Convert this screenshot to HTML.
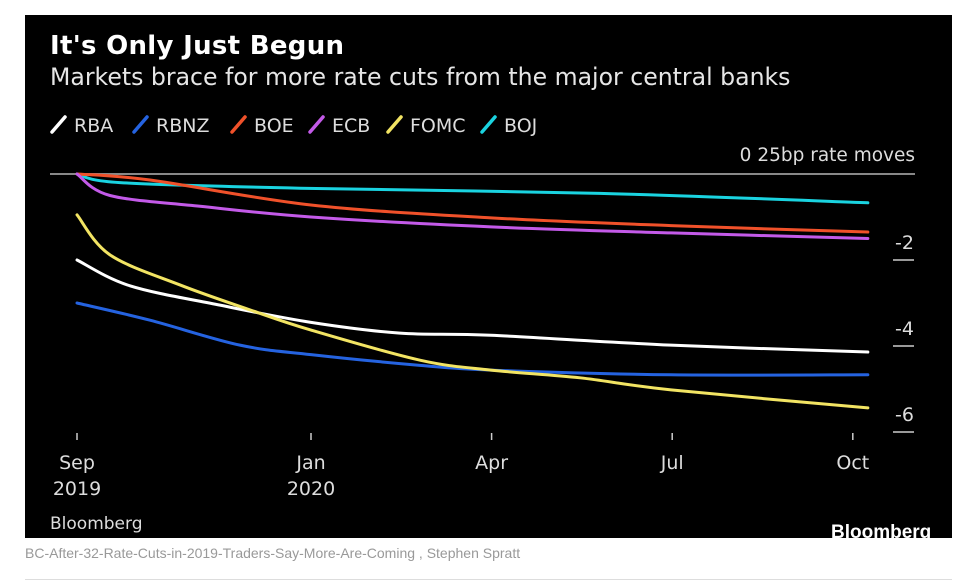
<!DOCTYPE html>
<html><head><meta charset="utf-8"><style>
body{margin:0;width:970px;height:582px;background:#fff;font-family:"Liberation Sans","DejaVu Sans",sans-serif;overflow:hidden;position:relative}
#panel{position:absolute;left:25px;top:15px;width:927px;height:523px;background:#000;overflow:hidden}
.t{position:absolute;color:#fff;white-space:nowrap;font-family:"DejaVu Sans","Liberation Sans",sans-serif}
#cap{position:absolute;left:25px;top:545px;font-size:14px;color:#999}
#rule{position:absolute;left:25px;top:579px;width:927px;height:1px;background:#ddd}
</style></head><body>
<div id="panel">
<div class="t" style="left:25px;top:16px;font-size:26px;font-weight:bold;letter-spacing:0.3px">It's Only Just Begun</div>
<div class="t" style="left:25px;top:48px;font-size:23.6px;color:#e6e6e6">Markets brace for more rate cuts from the major central banks</div>
<svg id="svg" width="927" height="523" style="position:absolute;left:0;top:0"></svg>
<div class="t" style="left:25px;top:499px;font-size:17px;color:#ddd">Bloomberg</div>
<div class="t" style="left:806px;top:507px;font-size:19px;font-weight:bold;font-family:'Liberation Sans',sans-serif">Bloomberg</div>
</div>
<div id="cap">BC-After-32-Rate-Cuts-in-2019-Traders-Say-More-Are-Coming , Stephen Spratt</div>
<div id="rule"></div>
<script>
const seriesNames=["RBA","RBNZ","BOE","ECB","FOMC","BOJ"];
const seriesColors=["#ffffff","#2563e0","#f0512a","#c35ae8","#f2e463","#1ad3e0"];
const monthsRBA=[0.113,0.993,2.488,4,5.478,6.99,9.98,13.25];
const valuesRBA=[-2.0,-2.6,-3.05,-3.45,-3.7,-3.75,-3.98,-4.14];
const monthsRBNZ=[0.113,1.326,2.82,4,5.81,6.99,9.98,13.25];
const valuesRBNZ=[-3.0,-3.4,-3.98,-4.2,-4.45,-4.56,-4.67,-4.67];
const monthsBOE=[0.113,1.326,4,6.99,9.98,13.25];
const valuesBOE=[0,-0.14,-0.72,-1.02,-1.2,-1.35];
const monthsECB=[0.113,0.661,2.156,4,6.99,9.98,13.25];
const valuesECB=[0,-0.5,-0.75,-1.0,-1.23,-1.37,-1.5];
const monthsFOMC=[0.113,0.661,1.824,2.987,4,5.81,6.99,8.47,9.98,13.25];
const valuesFOMC=[-0.95,-1.88,-2.58,-3.16,-3.63,-4.33,-4.56,-4.74,-5.02,-5.44];
const monthsBOJ=[0.113,0.827,3.817,8.8,13.25];
const valuesBOJ=[0,-0.2,-0.33,-0.45,-0.67];
const xTickMonths=[0.113,4,7,10,13];
const xTickLabels=[["Sep","2019"],["Jan","2020"],["Apr",""],["Jul",""],["Oct",""]];
const yTickValues=[-2,-4,-6];
const yTickLabels=["-2","-4","-6"];
const allMonths=[monthsRBA,monthsRBNZ,monthsBOE,monthsECB,monthsFOMC,monthsBOJ];
const allValues=[valuesRBA,valuesRBNZ,valuesBOE,valuesECB,valuesFOMC,valuesBOJ];

const NS="http://www.w3.org/2000/svg";
const svg=document.getElementById('svg');
const xS=m=>286+60.2*(m-4);
const yS=v=>159+43*(-v);
function mk(tag,attrs,parent){const e=document.createElementNS(NS,tag);for(const k in attrs)e.setAttribute(k,attrs[k]);(parent||svg).appendChild(e);return e;}
let lx=25;
const lw=[72,88,68,68,84,60];
seriesNames.forEach((n,i)=>{
  const g=mk('g',{});
  
  
  mk('line',{x1:lx+2,y1:117,x2:lx+15,y2:102,stroke:seriesColors[i],'stroke-width':3.5,'stroke-linecap':'round'},g);
  const t=mk('text',{x:lx+24,y:117,fill:'#ddd','font-size':19,'font-family':'DejaVu Sans, sans-serif'},g);t.textContent=n;
  lx+=lw[i]+10;
});
const z=mk('line',{x1:25,y1:yS(0),x2:890,y2:yS(0),stroke:'#888','stroke-width':2});


const zl=mk('text',{x:890,y:yS(0)-13,fill:'#ddd','font-size':18.5,'text-anchor':'end','font-family':'DejaVu Sans, sans-serif'});
zl.textContent="0 25bp rate moves";


yTickValues.forEach((v,i)=>{
  const l=mk('line',{x1:868,y1:yS(v),x2:889,y2:yS(v),stroke:'#ccc','stroke-width':1.5});
  
  
  const t=mk('text',{x:889,y:yS(v)-11,fill:'#ddd','font-size':19,'text-anchor':'end','font-family':'DejaVu Sans, sans-serif'});
  t.textContent=yTickLabels[i];
  
  
});
xTickMonths.forEach((m,i)=>{
  const l=mk('line',{x1:xS(m),y1:418,x2:xS(m),y2:425,stroke:'#ccc','stroke-width':1.5});
  
  
  xTickLabels[i].forEach((s,j)=>{ if(!s)return;
    const t=mk('text',{x:xS(m),y:454+j*26,fill:'#ddd','font-size':19,'text-anchor':'middle','font-family':'DejaVu Sans, sans-serif'});
    t.textContent=s;
    
    
  });
});
function smooth(pts){let d='M'+pts[0][0]+','+pts[0][1];
  for(let i=0;i<pts.length-1;i++){const p0=pts[i-1]||pts[i],p1=pts[i],p2=pts[i+1],p3=pts[i+2]||p2;
    const c1=[p1[0]+(p2[0]-p0[0])/6,p1[1]+(p2[1]-p0[1])/6],c2=[p2[0]-(p3[0]-p1[0])/6,p2[1]-(p3[1]-p1[1])/6];
    d+=' C'+c1+' '+c2+' '+p2;}return d;}
const order=[5,2,3,0,1,4];
order.forEach(i=>{
  const pts=allMonths[i].map((m,k)=>[xS(m),yS(allValues[i][k])]);
  const p=mk('path',{d:smooth(pts),fill:'none',stroke:seriesColors[i],'stroke-width':3,'stroke-linecap':'round'});
  
  
});
</script>
</body></html>
